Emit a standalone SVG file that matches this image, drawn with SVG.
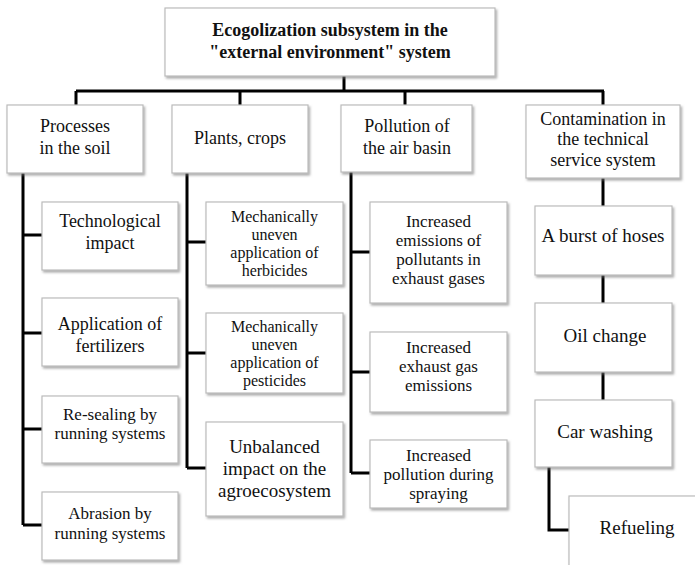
<svg xmlns="http://www.w3.org/2000/svg" width="695" height="565" viewBox="0 0 695 565" font-family="'Liberation Serif', 'Times New Roman', 'DejaVu Serif', serif">
<defs>
<filter id="sh" x="-10%" y="-10%" width="125%" height="130%">
<feDropShadow dx="1.5" dy="2" stdDeviation="1.2" flood-color="#777" flood-opacity="0.6"/>
</filter>
<style>
.box{fill:#fff;stroke:#bcbcbc;stroke-width:1.2;filter:url(#sh)}
.c{fill:none;stroke:#000;stroke-width:3}
text{font-family:'Liberation Serif','Times New Roman','DejaVu Serif',serif;fill:#111;text-anchor:middle}
.t{font-weight:bold;font-size:18px}
.f18{font-size:18px}
.f17{font-size:17px}
.f16{font-size:16px}
.f19{font-size:19px}
</style>
</defs>
<rect width="695" height="565" fill="#fff"/>
<g id="connectors">
<path class="c" d="M344 76V91M76 91H604M76 91V105M240 91V105M405 91V105M603 91V105"/>
<path class="c" d="M23 173V525M23 235H42M23 333H42M23 429H42M23 525H42"/>
<path class="c" d="M187 173V468M187 242H206M187 353H206M187 468H206"/>
<path class="c" d="M351 172V473M351 252H370M351 372H370M351 473H370"/>
<path class="c" d="M603 178V206M603 275V303M603 372V400M549 467V530H569"/>
</g>
<g id="title">
<rect class="box" x="165" y="8" width="330" height="68"/>
<text class="t" x="330" y="36">Ecogolization subsystem in the</text>
<text class="t" x="330" y="58">"external environment" system</text>
</g>
<g id="n-soil">
<rect class="box" x="7" y="105" width="136" height="68"/>
<text class="f18" x="75" y="132">Processes</text>
<text class="f18" x="75" y="154">in the soil</text>
</g>
<g id="n-plants">
<rect class="box" x="172" y="105" width="136" height="68"/>
<text class="f18" x="240" y="144">Plants, crops</text>
</g>
<g id="n-air">
<rect class="box" x="341" y="105" width="131" height="67"/>
<text class="f18" x="407" y="132">Pollution of</text>
<text class="f18" x="407" y="154">the air basin</text>
</g>
<g id="n-tech">
<rect class="box" x="526" y="105" width="154" height="73"/>
<text class="f18" x="603" y="125">Contamination in</text>
<text class="f18" x="603" y="145">the technical</text>
<text class="f18" x="603" y="166">service system</text>
</g>
<g id="n-techimpact">
<rect class="box" x="42" y="202" width="136" height="68"/>
<text class="f18" x="110" y="227">Technological</text>
<text class="f18" x="110" y="249">impact</text>
</g>
<g id="n-fert">
<rect class="box" x="42" y="298" width="136" height="68"/>
<text class="f18" x="110" y="330">Application of</text>
<text class="f18" x="110" y="352">fertilizers</text>
</g>
<g id="n-reseal">
<rect class="box" x="42" y="396" width="136" height="67"/>
<text class="f17" x="110" y="420">Re-sealing by</text>
<text class="f17" x="110" y="439">running systems</text>
</g>
<g id="n-abrasion">
<rect class="box" x="42" y="492" width="136" height="68"/>
<text class="f17" x="110" y="519">Abrasion by</text>
<text class="f17" x="110" y="539">running systems</text>
</g>
<g id="n-herb">
<rect class="box" x="206" y="202" width="137" height="83"/>
<text class="f16" x="274.5" y="222">Mechanically</text>
<text class="f16" x="274.5" y="240">uneven</text>
<text class="f16" x="274.5" y="258">application of</text>
<text class="f16" x="274.5" y="276">herbicides</text>
</g>
<g id="n-pest">
<rect class="box" x="206" y="313" width="137" height="80"/>
<text class="f16" x="274.5" y="332">Mechanically</text>
<text class="f16" x="274.5" y="350">uneven</text>
<text class="f16" x="274.5" y="368">application of</text>
<text class="f16" x="274.5" y="386">pesticides</text>
</g>
<g id="n-unbal">
<rect class="box" x="206" y="422" width="137" height="94"/>
<text class="f19" x="274.5" y="453">Unbalanced</text>
<text class="f19" x="274.5" y="475">impact on the</text>
<text class="f19" x="274.5" y="497">agroecosystem</text>
</g>
<g id="n-emis">
<rect class="box" x="370" y="202" width="137" height="101"/>
<text class="f17" x="438.5" y="227">Increased</text>
<text class="f17" x="438.5" y="246">emissions of</text>
<text class="f17" x="438.5" y="265">pollutants in</text>
<text class="f17" x="438.5" y="284">exhaust gases</text>
</g>
<g id="n-exh">
<rect class="box" x="370" y="332" width="137" height="80"/>
<text class="f17" x="438.5" y="353">Increased</text>
<text class="f17" x="438.5" y="372">exhaust gas</text>
<text class="f17" x="438.5" y="391">emissions</text>
</g>
<g id="n-spray">
<rect class="box" x="370" y="440" width="137" height="68"/>
<text class="f17" x="438.5" y="461">Increased</text>
<text class="f17" x="438.5" y="480">pollution during</text>
<text class="f17" x="438.5" y="499">spraying</text>
</g>
<g id="n-hoses">
<rect class="box" x="535" y="206" width="137" height="69"/>
<text class="f19" x="603" y="242">A burst of hoses</text>
</g>
<g id="n-oil">
<rect class="box" x="535" y="303" width="137" height="69"/>
<text class="f19" x="605" y="342">Oil change</text>
</g>
<g id="n-car">
<rect class="box" x="535" y="400" width="137" height="67"/>
<text class="f19" x="605" y="438">Car washing</text>
</g>
<g id="n-refuel">
<rect class="box" x="569" y="496" width="137" height="75"/>
<text class="f19" x="637" y="534">Refueling</text>
</g>
</svg>
